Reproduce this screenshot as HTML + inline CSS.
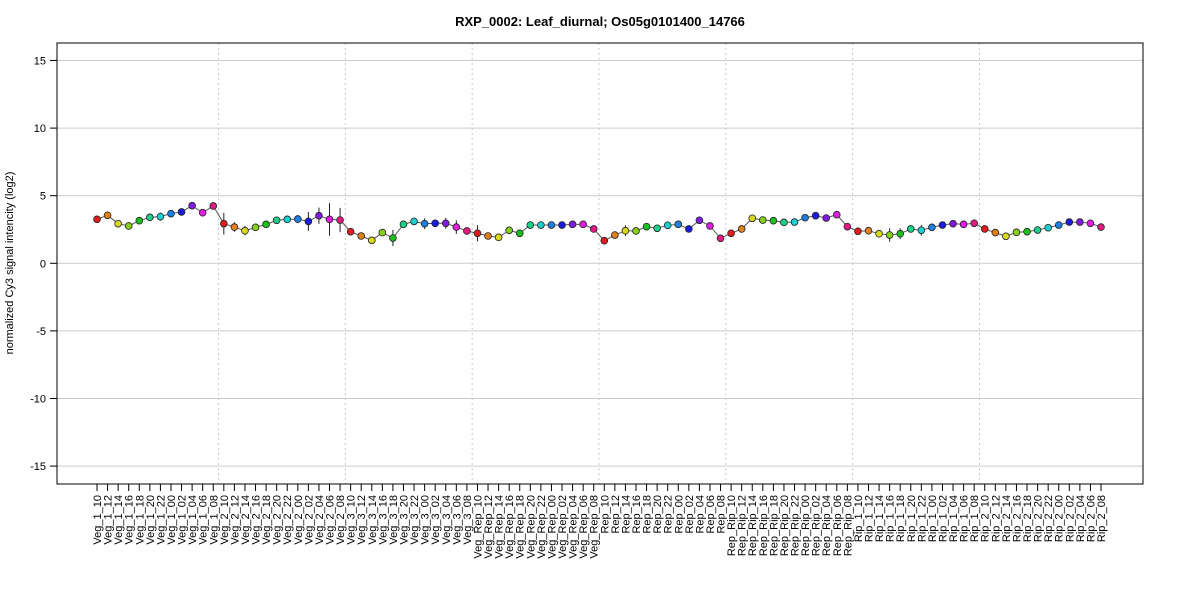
<!DOCTYPE html>
<html><head><meta charset="utf-8">
<style>
body{margin:0;background:#fff;}
svg{display:block;font-family:"Liberation Sans",Arial,sans-serif;}
</style></head>
<body>
<svg id="chart" width="1200" height="600" viewBox="0 0 1200 600">
<text x="600" y="26" text-anchor="middle" font-size="13" font-weight="bold">RXP_0002: Leaf_diurnal; Os05g0101400_14766</text>
<text transform="translate(13,263) rotate(-90)" text-anchor="middle" font-size="11">normalized Cy3 signal intencity (log2)</text>
<g id="grid"></g><g id="yaxis"></g><g id="xaxis"></g><g id="series"></g>
<rect x="57" y="43" width="1086" height="441" fill="none" stroke="#000" stroke-width="1"/>
</svg>
<script>
const groups = ["Veg_1","Veg_2","Veg_3","Veg_Rep","Rep","Rep_Rip","Rip_1","Rip_2"];
const hours = ["10","12","14","16","18","20","22","00","02","04","06","08"];
const values = [
3.25,3.55,2.93,2.76,3.15,3.4,3.45,3.67,3.8,4.26,3.74,4.24,
2.93,2.68,2.41,2.66,2.88,3.18,3.25,3.27,3.1,3.52,3.25,3.2,
2.34,2.02,1.7,2.27,1.87,2.88,3.1,2.93,2.96,2.96,2.68,2.39,
2.22,2.02,1.92,2.44,2.22,2.83,2.83,2.83,2.83,2.88,2.88,2.54,
1.67,2.09,2.41,2.39,2.71,2.59,2.81,2.88,2.54,3.18,2.76,1.85,
2.22,2.54,3.33,3.2,3.15,3.03,3.05,3.37,3.52,3.35,3.6,2.71,
2.37,2.41,2.19,2.09,2.19,2.54,2.44,2.66,2.83,2.93,2.88,2.96,
2.54,2.27,2.0,2.29,2.34,2.46,2.63,2.83,3.05,3.05,2.96,2.68];
const errors = [
0.1,0.15,0.15,0.1,0.1,0.15,0.3,0.1,0.1,0.1,0.1,0.1,
0.8,0.35,0.35,0.15,0.1,0.15,0.1,0.3,0.7,0.6,1.2,0.9,
0.1,0.1,0.1,0.15,0.6,0.15,0.1,0.4,0.15,0.4,0.5,0.15,
0.6,0.15,0.15,0.1,0.15,0.1,0.1,0.1,0.15,0.15,0.1,0.15,
0.1,0.1,0.4,0.15,0.1,0.1,0.1,0.1,0.1,0.1,0.1,0.25,
0.1,0.1,0.1,0.1,0.1,0.1,0.1,0.1,0.1,0.1,0.1,0.1,
0.1,0.15,0.1,0.5,0.4,0.15,0.4,0.1,0.1,0.1,0.1,0.1,
0.1,0.15,0.1,0.1,0.1,0.1,0.15,0.15,0.25,0.1,0.1,0.1];
const yTicks = [-15,-10,-5,0,5,10,15];
const palette = ["#e01c1c","#e0801c","#d8d81c","#84d01c","#1cc01c","#1cd088","#1cd0d0","#1c80e0","#1c1ce0","#801ce0","#e01ce0","#e01c80"];

const NS="http://www.w3.org/2000/svg";
const svg=document.getElementById('chart');
const labels=[];groups.forEach(g=>hours.forEach(h=>labels.push(g+"_"+h)));
const n=labels.length;
const x0=97,x1=1101;
const xs=i=>x0+i*(x1-x0)/(n-1);
const ys=v=>263.3-v*13.52;
function mk(tag,attrs,parent){const e=document.createElementNS(NS,tag);for(const k in attrs)e.setAttribute(k,attrs[k]);parent.appendChild(e);return e;}
const grid=document.getElementById('grid'),yaxis=document.getElementById('yaxis'),xaxis=document.getElementById('xaxis'),series=document.getElementById('series');
yTicks.forEach(t=>{
  const l=mk('line',{x1:57,x2:1143,y1:ys(t),y2:ys(t),stroke:'#cccccc','stroke-width':1},grid);
  
  
  const tk=mk('line',{x1:50,x2:57,y1:ys(t),y2:ys(t),stroke:'#000'},yaxis);
  
  
  const tx=mk('text',{x:46,y:ys(t)+4,'text-anchor':'end','font-size':11},yaxis);
  tx.textContent=t;
  
  
});
for(let g=1;g<groups.length;g++){
  const xx=(xs(g*12-1)+xs(g*12))/2;
  const d=mk('line',{x1:xx,x2:xx,y1:43,y2:484,stroke:'#c8c8c8','stroke-dasharray':'2,3'},grid);
  
  
}
labels.forEach((lab,i)=>{
  const tk=mk('line',{x1:xs(i),x2:xs(i),y1:484,y2:491,stroke:'#000'},xaxis);
  
  
  const tx=mk('text',{transform:`translate(${xs(i)+4},495) rotate(-90)`,'text-anchor':'end','font-size':11},xaxis);
  tx.textContent=lab;
  
  
});
const pl=mk('polyline',{points:values.map((v,i)=>xs(i)+','+ys(v)).join(' '),fill:'none',stroke:'#555','stroke-width':1},series);


values.forEach((v,i)=>{
  const e=mk('line',{x1:xs(i),x2:xs(i),y1:ys(v+errors[i]),y2:ys(v-errors[i]),stroke:'#222','stroke-width':1},series);
  
  
});
values.forEach((v,i)=>{
  const c=mk('circle',{cx:xs(i),cy:ys(v),r:3.4,fill:palette[i%12],stroke:'#222','stroke-width':0.8},series);
  
  
});
</script>
</body></html>
